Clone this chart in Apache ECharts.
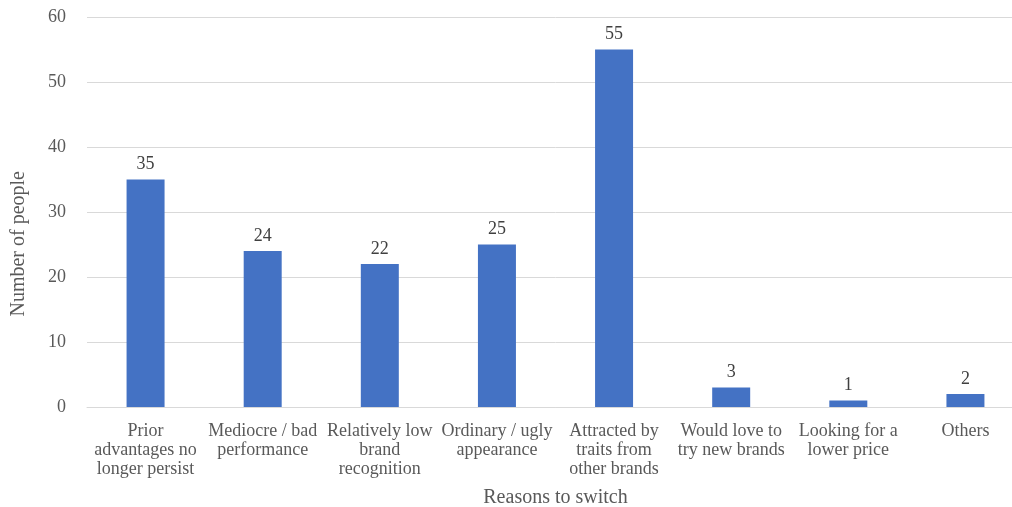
<!DOCTYPE html>
<html>
<head>
<meta charset="utf-8">
<script src="https://cdn.jsdelivr.net/npm/echarts@6/dist/echarts.min.js"></script>
<style>
  html, body { margin: 0; padding: 0; background: #fff; overflow: hidden; }
  #chart { width: 1025px; height: 507px; }
</style>
</head>
<body>
<div id="chart"></div>
<script>
// 数据
var categories = [
  'Prior\nadvantages no\nlonger persist',
  'Mediocre / bad\nperformance',
  'Relatively low\nbrand\nrecognition',
  'Ordinary / ugly\nappearance',
  'Attracted by\ntraits from\nother brands',
  'Would love to\ntry new brands',
  'Looking for a\nlower price',
  'Others'
];
var people = [35, 24, 22, 25, 55, 3, 1, 2];

var textColor = '#595959';
var fontName = '"Liberation Serif", "Times New Roman", serif';

var myChart = echarts.init(document.getElementById('chart'));

var option = {
  backgroundColor: '#fff',
  animation: false,
  grid: {
    left: 87,
    top: 17,
    width: 937,
    height: 390,
    outerBoundsMode: 'none'
  },
  xAxis: {
    type: 'category',
    data: categories,
    name: 'Reasons to switch',
    nameLocation: 'middle',
    nameGap: 81,
    nameTextStyle: { color: textColor, fontFamily: fontName, fontSize: 20 },
    axisLine: { lineStyle: { color: '#d9d9d9' } },
    axisTick: { show: false },
    axisLabel: {
      interval: 0,
      margin: 15,
      color: textColor,
      fontFamily: fontName,
      fontSize: 18,
      lineHeight: 19
    }
  },
  yAxis: {
    type: 'value',
    min: 0,
    max: 60,
    interval: 10,
    axisLine: { show: false },
    axisTick: { show: false },
    splitLine: { lineStyle: { color: '#d9d9d9' } },
    axisLabel: {
      margin: 21,
      color: textColor,
      fontFamily: fontName,
      fontSize: 18
    }
  },
  graphic: [{
    type: 'text',
    left: 9,
    top: 171,
    rotation: Math.PI / 2,
    style: {
      text: 'Number of people',
      fill: textColor,
      font: '20px ' + fontName
    }
  }],
  series: [{
    type: 'bar',
    data: people,
    barWidth: 38,
    itemStyle: { color: '#4472C4' },
    label: {
      show: true,
      position: 'top',
      distance: 6,
      color: '#404040',
      fontFamily: fontName,
      fontSize: 18
    }
  }]
};

myChart.setOption(option);
</script>
</body>
</html>
